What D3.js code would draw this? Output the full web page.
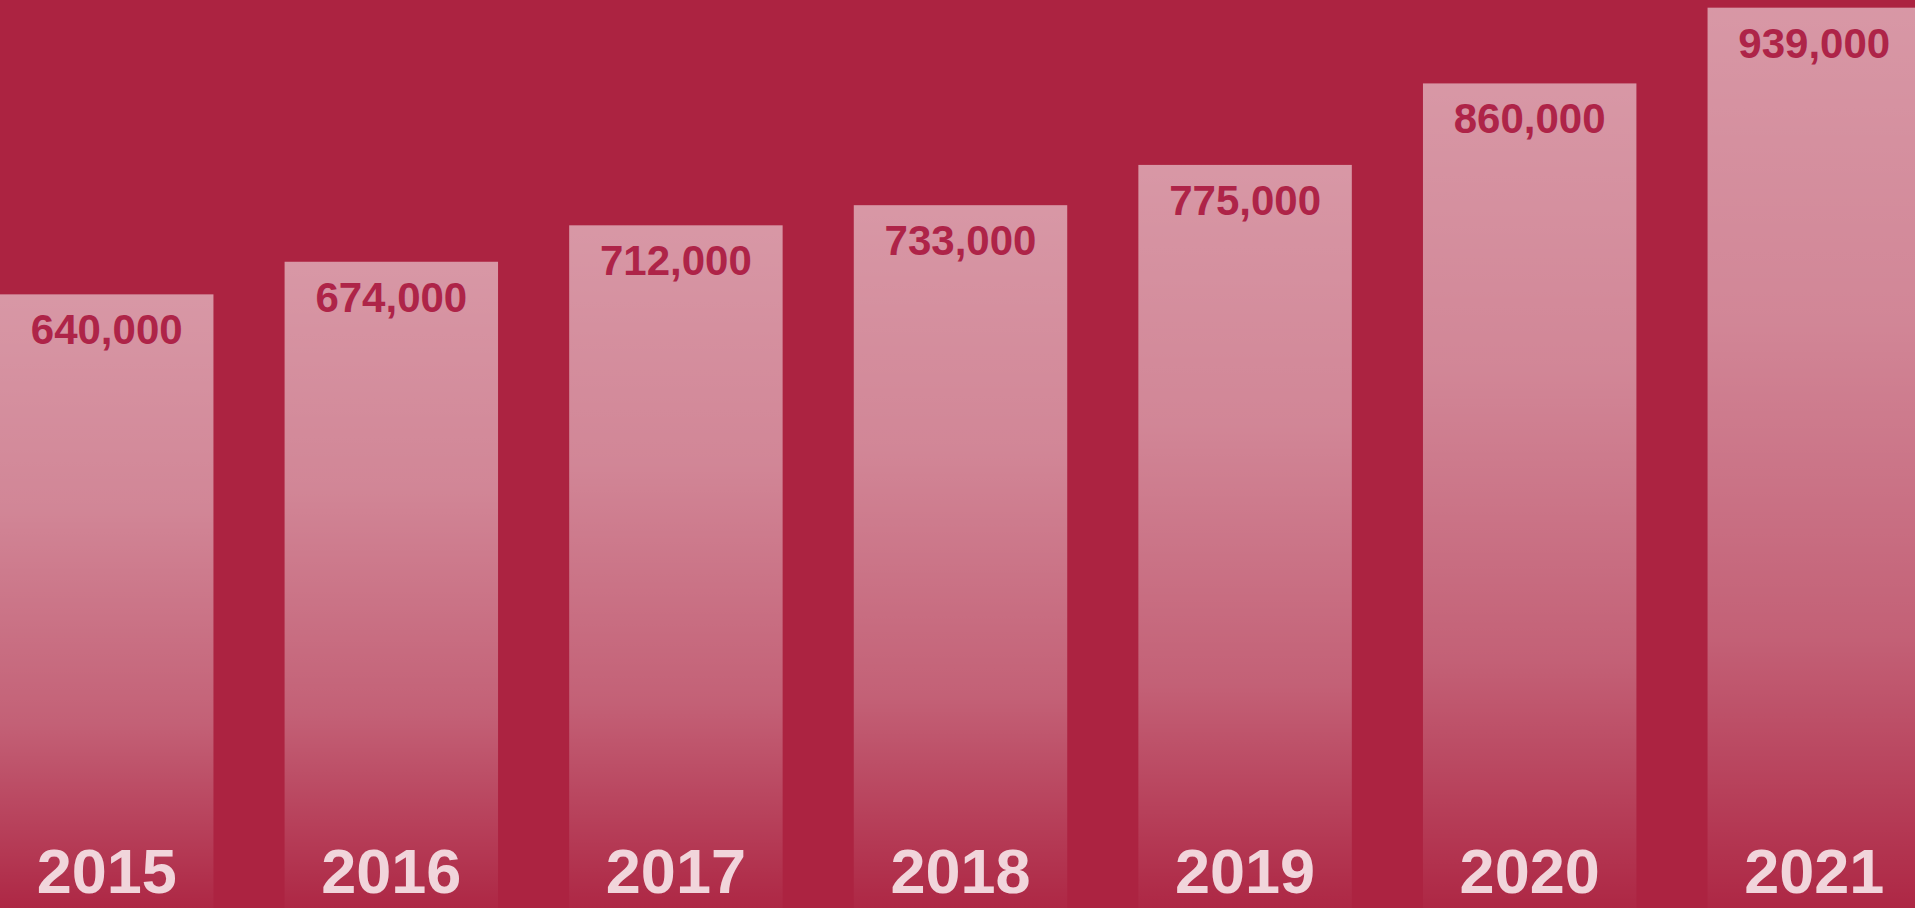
<!DOCTYPE html>
<html>
<head>
<meta charset="utf-8">
<script src="https://cdn.jsdelivr.net/npm/d3@7"></script>
<style>
  html, body { margin: 0; padding: 0; background: #ac2341; overflow: hidden; }
  svg { display: block; }
</style>
</head>
<body>
<svg id="chart"></svg>
<script>
var years = ["2015", "2016", "2017", "2018", "2019", "2020", "2021"];
var values = [640000, 674000, 712000, 733000, 775000, 860000, 939000];

var width = 1915;
var height = 908;

var svg = d3.select("#chart")
  .attr("width", width)
  .attr("height", height);

svg.append("rect")
  .attr("width", width)
  .attr("height", height)
  .attr("fill", "#ac2341");

// per-bar gradient, light at the top fading to the background
var grad = svg.append("defs").append("linearGradient")
  .attr("id", "barGrad")
  .attr("x1", 0).attr("y1", 0)
  .attr("x2", 0).attr("y2", 1);
grad.append("stop").attr("offset", "0%").attr("stop-color", "#fff").attr("stop-opacity", 0.53);
grad.append("stop").attr("offset", "35%").attr("stop-color", "#fff").attr("stop-opacity", 0.45);
grad.append("stop").attr("offset", "70%").attr("stop-color", "#fff").attr("stop-opacity", 0.28);
grad.append("stop").attr("offset", "100%").attr("stop-color", "#fff").attr("stop-opacity", 0.02);

var x = d3.scaleBand()
  .domain(years)
  .range([0, 1921])
  .paddingInner(0.25)
  .paddingOuter(0);

var y = d3.scaleLinear()
  .domain([0, 947000])
  .range([height, 0]);

var data = years.map(function (d, i) { return { year: d, value: values[i] }; });
var fmt = d3.format(",");

var g = svg.append("g");

g.selectAll("rect.bar").data(data)
  .enter().append("rect")
  .attr("class", "bar")
  .attr("x", function (d) { return x(d.year); })
  .attr("y", function (d) { return y(d.value); })
  .attr("width", x.bandwidth())
  .attr("height", function (d) { return height - y(d.value); })
  .attr("fill", "url(#barGrad)");

g.selectAll("text.val").data(data)
  .enter().append("text")
  .attr("class", "val")
  .attr("x", function (d) { return x(d.year) + x.bandwidth() / 2; })
  .attr("y", function (d) { return y(d.value) + 50; })
  .attr("text-anchor", "middle")
  .attr("font-family", "'Liberation Sans', Arial, sans-serif")
  .attr("font-weight", "bold")
  .attr("font-size", 42)
  .attr("fill", "#ae2448")
  .text(function (d) { return fmt(d.value); });

g.selectAll("text.year").data(data)
  .enter().append("text")
  .attr("class", "year")
  .attr("x", function (d) { return x(d.year) + x.bandwidth() / 2; })
  .attr("y", 893)
  .attr("text-anchor", "middle")
  .attr("font-family", "'Liberation Sans', Arial, sans-serif")
  .attr("font-weight", "bold")
  .attr("font-size", 63)
  .attr("fill", "#f1d5db")
  .text(function (d) { return d.year; });
</script>
</body>
</html>
